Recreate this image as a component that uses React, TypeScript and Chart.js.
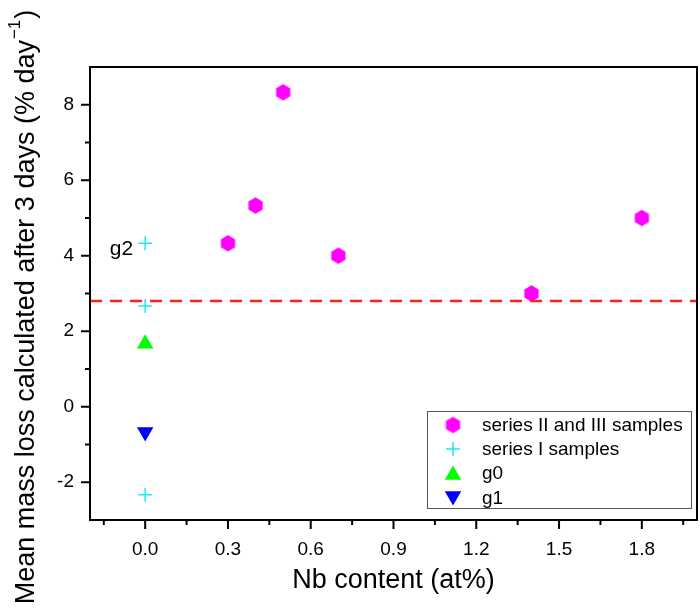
import React, { useEffect, useRef } from "react";
import { Chart, registerables } from "chart.js";

Chart.register(...registerables);

// ---- data ----
const seriesIIIx = [0.3, 0.4, 0.5, 0.7, 1.4, 1.8];
const seriesIIIy = [4.33, 5.33, 8.33, 4.0, 3.0, 5.0];
const seriesIx = [0, 0, 0];
const seriesIy = [4.33, 2.67, -2.33];
const g0x = [0];
const g0y = [1.67];
const g1x = [0];
const g1y = [-0.67];
const threshold = 2.8;
const xRange = [-0.2, 2.0];
const yRange = [-3, 9];
const xTickValues = [0, 0.3, 0.6, 0.9, 1.2, 1.5, 1.8];
const yTickValues = [-2, 0, 2, 4, 6, 8];
const legendLabels = ["series II and III samples", "series I samples", "g0", "g1"];
const annotationLabel = "g2";
const xTitle = "Nb content (at%)";
const yTitleMain = "Mean mass loss calculated after 3 days (% day";
const yTitleSup = "\u22121";
const yTitleEnd = ")";

const FONT = "'Liberation Sans', Arial, sans-serif";
const MAGENTA = "#FF00FF";
const CYAN = "#22E8EE";
const GREEN = "#00FF00";
const BLUE = "#0000FF";

function makeHexagon(r: number, color: string) {
  const c = document.createElement("canvas");
  const size = Math.ceil(r * 2 + 2);
  c.width = size;
  c.height = size;
  const g = c.getContext("2d")!;
  const cx = size / 2, cy = size / 2;
  g.beginPath();
  for (let i = 0; i < 6; i++) {
    const a = -Math.PI / 2 + (i * Math.PI) / 3;
    const px = cx + r * Math.cos(a);
    const py = cy + r * Math.sin(a);
    if (i === 0) g.moveTo(px, py);
    else g.lineTo(px, py);
  }
  g.closePath();
  g.fillStyle = color;
  g.fill();
  return c;
}

function drawTri(ctx: CanvasRenderingContext2D, x: number, y: number, r: number, down: boolean, color: string) {
  ctx.beginPath();
  for (let i = 0; i < 3; i++) {
    const a = (down ? Math.PI : 0) + (i * 2 * Math.PI) / 3;
    const px = x + Math.sin(a) * r;
    const py = y - Math.cos(a) * r;
    if (i === 0) ctx.moveTo(px, py);
    else ctx.lineTo(px, py);
  }
  ctx.closePath();
  ctx.fillStyle = color;
  ctx.fill();
}

function makeFramePlugin(hex: HTMLCanvasElement) {
  return {
    id: "framePlugin",
    afterDraw(chart: any) {
      const { ctx, chartArea, scales } = chart;
      const { left, right, top, bottom } = chartArea;
      const xs = scales.x;
      const ys = scales.y;
      ctx.save();
      // frame
      ctx.strokeStyle = "#000";
      ctx.lineWidth = 2;
      ctx.strokeRect(left, top, right - left, bottom - top);
      // x ticks
      const xStep = xTickValues[1] - xTickValues[0];
      xTickValues.forEach((v) => {
        const px = xs.getPixelForValue(v);
        ctx.beginPath();
        ctx.moveTo(px, bottom);
        ctx.lineTo(px, bottom + 9);
        ctx.stroke();
      });
      const xMinor: number[] = [];
      xTickValues.forEach((v) => {
        [v - xStep / 2, v + xStep / 2].forEach((m) => {
          if (m > xRange[0] && m < xRange[1] && !xMinor.some((q) => Math.abs(q - m) < 1e-6)) xMinor.push(m);
        });
      });
      xMinor.forEach((v) => {
        const px = xs.getPixelForValue(v);
        ctx.beginPath();
        ctx.moveTo(px, bottom);
        ctx.lineTo(px, bottom + 5);
        ctx.stroke();
      });
      // y ticks
      const yStep = yTickValues[1] - yTickValues[0];
      yTickValues.forEach((v) => {
        const py = ys.getPixelForValue(v);
        ctx.beginPath();
        ctx.moveTo(left - 9, py);
        ctx.lineTo(left, py);
        ctx.stroke();
      });
      const yMinor: number[] = [];
      yTickValues.forEach((v) => {
        [v - yStep / 2, v + yStep / 2].forEach((m) => {
          if (m > yRange[0] && m < yRange[1] && !yMinor.some((q) => Math.abs(q - m) < 1e-6)) yMinor.push(m);
        });
      });
      yMinor.forEach((v) => {
        const py = ys.getPixelForValue(v);
        ctx.beginPath();
        ctx.moveTo(left - 5, py);
        ctx.lineTo(left, py);
        ctx.stroke();
      });

      // axis titles
      ctx.fillStyle = "#000";
      ctx.font = `27px ${FONT}`;
      ctx.textAlign = "center";
      ctx.textBaseline = "middle";
      ctx.fillText(xTitle, (left + right) / 2, 581);

      // y title with superscript
      ctx.save();
      ctx.translate(25, 307);
      ctx.rotate(-Math.PI / 2);
      ctx.font = `27px ${FONT}`;
      const wMain = ctx.measureText(yTitleMain).width;
      ctx.font = `17px ${FONT}`;
      const wSup = ctx.measureText(yTitleSup).width;
      ctx.font = `27px ${FONT}`;
      const wEnd = ctx.measureText(yTitleEnd).width;
      const total = wMain + wSup + 2 + wEnd;
      let cx = -total / 2;
      ctx.textAlign = "left";
      ctx.textBaseline = "alphabetic";
      ctx.fillText(yTitleMain, cx, 9);
      cx += wMain + 1;
      ctx.font = `17px ${FONT}`;
      ctx.fillText(yTitleSup, cx, -5);
      cx += wSup + 1;
      ctx.font = `27px ${FONT}`;
      ctx.fillText(yTitleEnd, cx, 9);
      ctx.restore();

      // g2 annotation
      ctx.font = `21px ${FONT}`;
      ctx.textAlign = "right";
      ctx.textBaseline = "middle";
      ctx.fillText(annotationLabel, xs.getPixelForValue(seriesIx[0]) - 12, ys.getPixelForValue(seriesIy[0]) + 6);

      // legend
      const bx = 427, by = 411, bw = 264, bh = 97;
      ctx.fillStyle = "#fff";
      ctx.fillRect(bx, by, bw, bh);
      ctx.strokeStyle = "#555";
      ctx.lineWidth = 1;
      ctx.strokeRect(bx + 0.5, by + 0.5, bw, bh);
      const rows = [425, 449, 473, 498];
      const mx = 453;
      ctx.drawImage(hex, mx - hex.width / 2, rows[0] - hex.height / 2);
      ctx.strokeStyle = CYAN;
      ctx.lineWidth = 1.5;
      ctx.beginPath();
      ctx.moveTo(mx - 7, rows[1]);
      ctx.lineTo(mx + 7, rows[1]);
      ctx.moveTo(mx, rows[1] - 7);
      ctx.lineTo(mx, rows[1] + 7);
      ctx.stroke();
      drawTri(ctx, mx, rows[2] + 2, 9.5, false, GREEN);
      drawTri(ctx, mx, rows[3] - 2, 9.5, true, BLUE);
      ctx.fillStyle = "#000";
      ctx.font = `19px ${FONT}`;
      ctx.textAlign = "left";
      ctx.textBaseline = "middle";
      legendLabels.forEach((t, i) => ctx.fillText(t, 482, rows[i] + 1));
      ctx.restore();
    },
  };
}

export default function App() {
  const ref = useRef<HTMLCanvasElement | null>(null);
  useEffect(() => {
    if (!ref.current) return;
    const hex = makeHexagon(8.2, MAGENTA);
    const toPts = (xs: number[], ys: number[]) => xs.map((x, i) => ({ x, y: ys[i] }));
    const chart = new Chart(ref.current, {
      type: "scatter",
      data: {
        datasets: [
          {
            type: "line",
            label: "threshold",
            data: [
              { x: xRange[0], y: threshold },
              { x: xRange[1], y: threshold },
            ],
            borderColor: "#FF2020",
            borderWidth: 2.5,
            borderDash: [12, 8],
            pointRadius: 0,
            fill: false,
          } as any,
          {
            label: legendLabels[0],
            data: toPts(seriesIIIx, seriesIIIy),
            pointStyle: hex as any,
            pointRadius: 8,
          },
          {
            label: legendLabels[1],
            data: toPts(seriesIx, seriesIy),
            pointStyle: "cross",
            pointRadius: 7,
            borderColor: CYAN,
            backgroundColor: CYAN,
            borderWidth: 1.5,
          },
          {
            label: legendLabels[2],
            data: toPts(g0x, g0y),
            pointStyle: "triangle",
            pointRadius: 9.5,
            backgroundColor: GREEN,
            borderColor: GREEN,
            borderWidth: 0,
          },
          {
            label: legendLabels[3],
            data: toPts(g1x, g1y),
            pointStyle: "triangle",
            rotation: 180,
            pointRadius: 9.5,
            backgroundColor: BLUE,
            borderColor: BLUE,
            borderWidth: 0,
          },
        ],
      },
      options: {
        animation: false,
        responsive: false,
        devicePixelRatio: 1,
        layout: { autoPadding: false, padding: { top: 67, right: 3, left: 0, bottom: 0 } },
        plugins: { legend: { display: false }, tooltip: { enabled: false } },
        scales: {
          x: {
            type: "linear",
            min: xRange[0],
            max: xRange[1],
            grid: { display: false, drawTicks: false },
            border: { display: false },
            afterBuildTicks: (s: any) => {
              s.ticks = xTickValues.map((v) => ({ value: v }));
            },
            afterFit: (s: any) => {
              s.height = 94;
              s.paddingLeft = 0;
              s.paddingRight = 0;
            },
            ticks: {
              padding: 18,
              color: "#000",
              font: { family: FONT, size: 19 },
              maxRotation: 0,
              autoSkip: false,
              callback: (v: any) => Number(v).toFixed(1),
            },
          },
          y: {
            type: "linear",
            min: yRange[0],
            max: yRange[1],
            grid: { display: false, drawTicks: false },
            border: { display: false },
            afterBuildTicks: (s: any) => {
              s.ticks = yTickValues.map((v) => ({ value: v }));
            },
            afterFit: (s: any) => {
              s.width = 90;
              s.paddingTop = 0;
              s.paddingBottom = 0;
            },
            ticks: {
              padding: 16,
              color: "#000",
              font: { family: FONT, size: 19 },
              autoSkip: false,
              callback: (v: any) => String(v),
            },
          },
        },
      },
      plugins: [makeFramePlugin(hex)],
    });
    return () => chart.destroy();
  }, []);
  return (
    <div style={{ position: "fixed", left: 0, top: 0, width: 700, height: 614, background: "#fff" }}>
      <canvas ref={ref} width={700} height={614} style={{ width: 700, height: 614, display: "block" }} />
    </div>
  );
}
